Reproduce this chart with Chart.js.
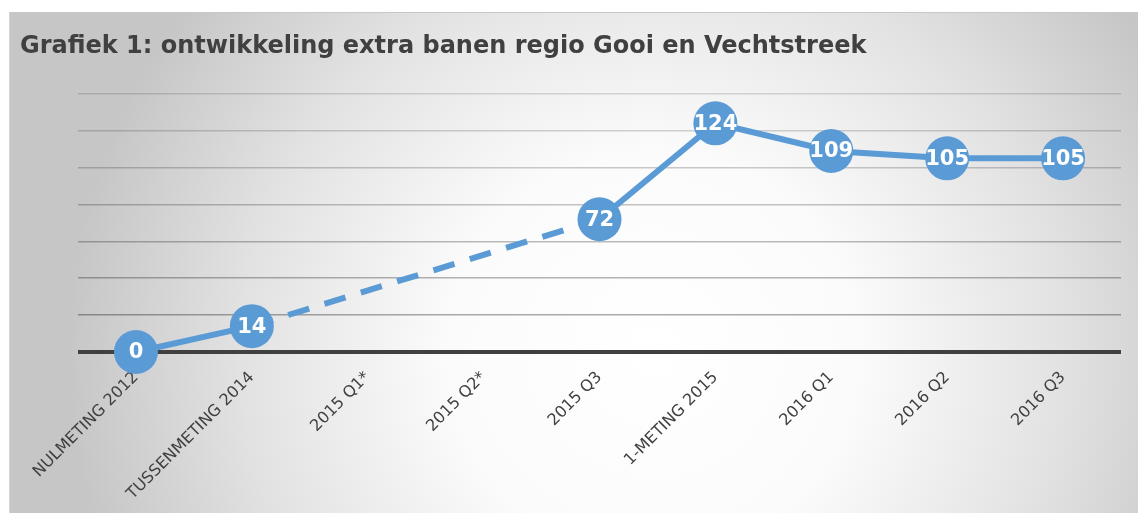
<!DOCTYPE html>
<html lang="nl">
<head>
    <meta charset="UTF-8">
    <title>Grafiek 1</title>
    <script src="https://cdn.jsdelivr.net/npm/chart.js"></script>
    <style>
      html, body { margin: 0; padding: 0; background: #fff; }
      #box {
        position: absolute;
        left: 9px; top: 12px;
        width: 1129px; height: 501px;
        box-sizing: border-box;
        border-top: 1px solid #c8c8c8;
        border-left: 1px solid #d4d4d4;
        background: radial-gradient(ellipse 52% 115% at 57% 68%, #ffffff 0%, #fbfbfb 35%, #e2e2e2 70%, #c6c6c6 100%);
      }
      #myChart { display: block; }
    </style>
</head>
<body>
<div id="box"><canvas id="myChart" width="1128" height="500"></canvas></div>

<script>
    // data
    const categories = ['NULMETING 2012', 'TUSSENMETING 2014', '2015 Q1*', '2015 Q2*', '2015 Q3',
                        '1-METING 2015', '2016 Q1', '2016 Q2', '2016 Q3'];
    const extraBanen = [0, 14, null, null, 72, 124, 109, 105, 105];
    const yTicks = [0, 20, 40, 60, 80, 100, 120, 140];

    const blue = '#5b9bd5';
    const font = '"DejaVu Sans", Verdana, sans-serif';

    // waarden wit in de bolletjes
    const labelPlugin = {
        id: 'labelPlugin',
        afterDatasetsDraw(chart) {
            const {ctx} = chart;
            const meta = chart.getDatasetMeta(0);
            ctx.save();
            ctx.font = 'bold 21px ' + font;
            ctx.fillStyle = '#ffffff';
            ctx.textAlign = 'center';
            ctx.textBaseline = 'middle';
            meta.data.forEach((pt, i) => {
                const v = extraBanen[i];
                if (v === null) return;
                ctx.fillText(String(v), pt.x, pt.y + 1);
            });
            ctx.restore();
        }
    };

    const config = {
        type: 'line',
        data: {
            labels: categories,
            datasets: [{
                data: extraBanen,
                borderColor: blue,
                backgroundColor: blue,
                borderWidth: 6,
                pointRadius: 22,
                pointHoverRadius: 22,
                pointBorderWidth: 0,
                pointBackgroundColor: blue,
                spanGaps: true,
                clip: false,
                segment: {
                    // gestippeld over de ontbrekende kwartalen
                    borderDash: c => extraBanen[c.p1DataIndex - 1] === null ? [22, 16] : undefined
                }
            }]
        },
        options: {
            responsive: false,
            animation: false,
            layout: { autoPadding: false, padding: { left: 10, right: 17, top: 0, bottom: 0 } },
            plugins: {
                legend: { display: false },
                tooltip: { enabled: false },
                title: {
                    display: true,
                    text: 'Grafiek 1: ontwikkeling extra banen regio Gooi en Vechtstreek',
                    align: 'start',
                    color: '#404040',
                    font: { family: font, size: 24, weight: 'bold' },
                    padding: { top: 19, bottom: 33 }
                }
            },
            scales: {
                x: {
                    offset: true,
                    grid: { display: false },
                    border: { display: false },
                    ticks: {
                        color: '#404040',
                        font: { family: font, size: 16 },
                        minRotation: 45,
                        maxRotation: 45,
                        padding: 8
                    },
                    afterFit: s => { s.height = 161; s.paddingLeft = 0; s.paddingRight = 0; }
                },
                y: {
                    min: 0,
                    max: 140,
                    afterBuildTicks: s => { s.ticks = yTicks.map(v => ({value: v})); },
                    ticks: { display: false },
                    border: { display: false },
                    grid: {
                        drawTicks: false,
                        color: c => c.tick.value === 0 ? '#404040'
                            : 'rgba(0,0,0,' + (0.36 - c.tick.value * 0.0016).toFixed(3) + ')',
                        lineWidth: c => c.tick.value === 0 ? 4 : 1.5
                    },
                    afterFit: s => { s.width = 58; }
                }
            }
        },
        plugins: [labelPlugin]
    };

    const ctx = document.getElementById('myChart').getContext('2d');
    new Chart(ctx, config);
</script>
</body>
</html>
